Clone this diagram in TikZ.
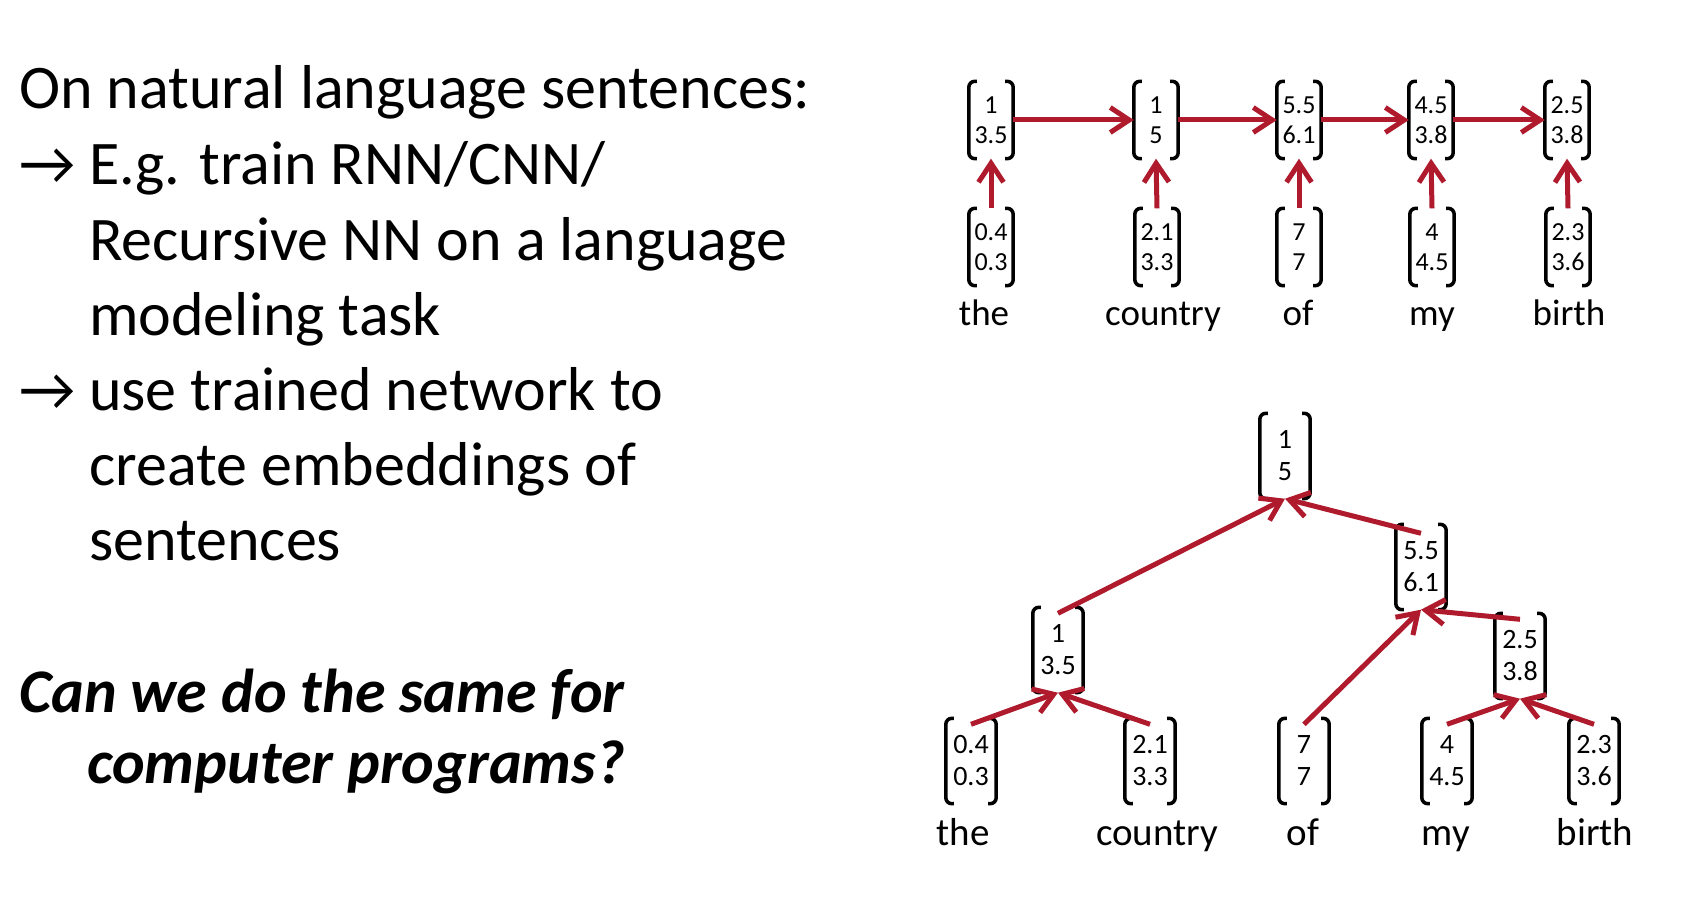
\documentclass[tikz,border=0pt]{standalone}
\usepackage{fontspec}
\setmainfont{Carlito}
\usetikzlibrary{arrows.meta}
\definecolor{arr}{RGB}{175,27,45}
\newcommand\brackets[1]{%
  \draw[brk] ([xshift=8pt]#1.north west) -- (#1.north west) -- (#1.south west) -- ([xshift=8pt]#1.south west);
  \draw[brk] ([xshift=-8pt]#1.north east) -- (#1.north east) -- (#1.south east) -- ([xshift=-8pt]#1.south east);}
\begin{document}
\begin{tikzpicture}[x=1pt,y=-1pt,
  vecA/.style={inner sep=0pt, minimum width=44pt, minimum height=77pt, align=center, font=\fontsize{26}{30}\selectfont},
  vecB/.style={inner sep=0pt, minimum width=50pt, minimum height=85pt, align=center, font=\fontsize{28}{32}\selectfont},
  brk/.style={line width=3.5pt, rounded corners=6pt},
  conn/.style={draw=arr, line width=5pt, -{Straight Barb[length=19pt,width=25pt]}},
  lblA/.style={inner sep=0pt, anchor=base, font=\fontsize{37}{37}\selectfont},
  lblB/.style={inner sep=0pt, anchor=base, font=\fontsize{39}{39}\selectfont},
  mainline/.style={inner sep=0pt, anchor=base west, font=\fontsize{62}{75}\selectfont},
  boldline/.style={inner sep=0pt, anchor=base west, font=\fontsize{62}{75}\selectfont\bfseries\itshape}]
\fill[white] (0,0) rectangle (1692,904);
\useasboundingbox (0,0) rectangle (1692,904);

% left text
\node[mainline] (l1) at (19,109) {On natural language sentences:};
\node[mainline] (a1) at (19,185) {→};
\node[mainline] (l2) at (89,185) {E.g. train RNN/CNN/};
\node[mainline] (l3) at (89,260) {Recursive NN on a language};
\node[mainline] (l4) at (89,335) {modeling task};
\node[mainline] (a2) at (19,410) {→};
\node[mainline] (l5) at (89,410) {use trained network to};
\node[mainline] (l6) at (89,485) {create embeddings of};
\node[mainline] (l7) at (89,560) {sentences};
\node[boldline] (q1) at (19,712) {Can we do the same for};
\node[boldline] (q2) at (87,783) {computer programs?};

% top diagram (chain)
\node[vecA] (t1) at (991,120) {1\\3.5};
\node[vecA] (t2) at (1156,120) {1\\5};
\node[vecA] (t3) at (1299,120) {5.5\\6.1};
\node[vecA] (t4) at (1431,120) {4.5\\3.8};
\node[vecA] (t5) at (1567,120) {2.5\\3.8};
\node[vecA] (b1) at (991,247) {0.4\\0.3};
\node[vecA] (b2) at (1157,247) {2.1\\3.3};
\node[vecA] (b3) at (1299,247) {7\\7};
\node[vecA] (b4) at (1432,247) {4\\4.5};
\node[vecA] (b5) at (1568,247) {2.3\\3.6};
\foreach \n in {t1,t2,t3,t4,t5,b1,b2,b3,b4,b5} {\brackets{\n}}
\node[lblA] (w1) at (984,325) {the};
\node[lblA] (w2) at (1163,325) {country};
\node[lblA] (w3) at (1298,325) {of};
\node[lblA] (w4) at (1432,325) {my};
\node[lblA] (w5) at (1569,325) {birth};
\draw[conn] (t1.east) -- (t2.west);
\draw[conn] (t2.east) -- (t3.west);
\draw[conn] (t3.east) -- (t4.west);
\draw[conn] (t4.east) -- (t5.west);
\foreach \i in {1,...,5} {\draw[conn] (b\i.north) -- (t\i.south);}

% bottom diagram (tree)
\node[vecB] (r) at (1285,456) {1\\5};
\node[vecB] (n1) at (1058,650) {1\\3.5};
\node[vecB] (n2) at (1421,567) {5.5\\6.1};
\node[vecB] (n3) at (1520,656) {2.5\\3.8};
\node[vecB] (e1) at (971,761) {0.4\\0.3};
\node[vecB] (e2) at (1150,761) {2.1\\3.3};
\node[vecB] (e3) at (1304,761) {7\\7};
\node[vecB] (e4) at (1447,761) {4\\4.5};
\node[vecB] (e5) at (1594,761) {2.3\\3.6};
\foreach \n in {r,n1,n2,n3,e1,e2,e3,e4,e5} {\brackets{\n}}
\node[lblB] (x1) at (963,845) {the};
\node[lblB] (x2) at (1157,845) {country};
\node[lblB] (x3) at (1303,845) {of};
\node[lblB] (x4) at (1446,845) {my};
\node[lblB] (x5) at (1595,845) {birth};
\draw[conn] ([yshift=-6pt]e1.north) -- (n1.south);
\draw[conn] ([yshift=-6pt]e2.north) -- (n1.south);
\draw[conn] ([yshift=-6pt]n1.north) -- (r.south);
\draw[conn] ([yshift=-9pt]n2.north) -- (r.south);
\draw[conn] ([yshift=-6pt]e3.north) -- (n2.south);
\draw[conn] ([yshift=-6pt]n3.north) -- (n2.south);
\draw[conn] ([yshift=-6pt]e4.north) -- (n3.south);
\draw[conn] ([yshift=-6pt]e5.north) -- (n3.south);
\end{tikzpicture}
\end{document}
